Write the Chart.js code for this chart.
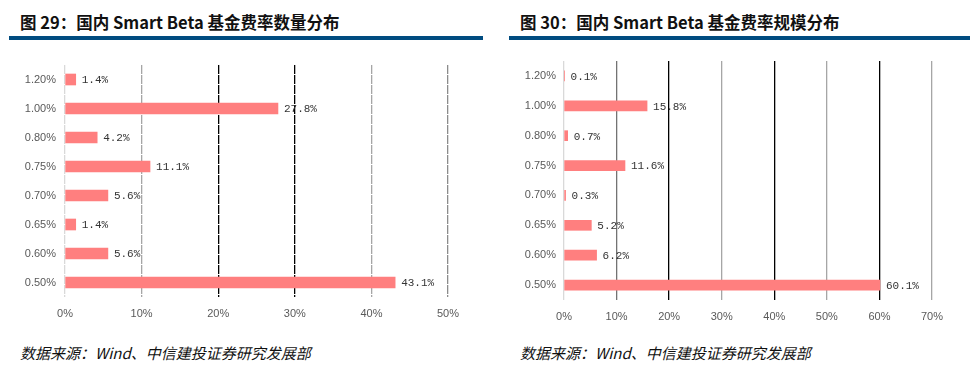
<!DOCTYPE html>
<html>
<head>
<meta charset="utf-8">
<script src="https://cdn.jsdelivr.net/npm/chart.js@4.4.1/dist/chart.umd.min.js"></script>
<style>
  html, body { margin: 0; padding: 0; background: #fff; }
  body { width: 974px; height: 376px; position: relative; overflow: hidden; }
  .title { position: absolute; top: 10px; font: bold 16.5px "Noto Sans CJK SC", sans-serif; color: #111; white-space: nowrap; }
  .rule { position: absolute; top: 36px; height: 4px; background: #004c80; }
  .source { position: absolute; top: 342px; font: italic 15px "Noto Sans CJK SC", sans-serif; color: #111; white-space: nowrap; }
  .box { position: absolute; top: 0; height: 330px; }
</style>
</head>
<body>
<div class="title" style="left:20px">图 29：国内 Smart Beta 基金费率数量分布</div>
<div class="title" style="left:520px">图 30：国内 Smart Beta 基金费率规模分布</div>
<div class="rule" style="left:9px;width:474px"></div>
<div class="rule" style="left:509px;width:461px"></div>
<div class="box" style="left:0;width:490px"><canvas id="countChart"></canvas></div>
<div class="box" style="left:490px;width:484px"><canvas id="scaleChart"></canvas></div>
<div class="source" style="left:20px">数据来源：Wind、中信建投证券研究发展部</div>
<div class="source" style="left:520px">数据来源：Wind、中信建投证券研究发展部</div>

<script>
// fee rate buckets, top to bottom
const feeRates = ['1.20%', '1.00%', '0.80%', '0.75%', '0.70%', '0.65%', '0.60%', '0.50%'];
// share of fund count (%)
const countShare = [1.4, 27.8, 4.2, 11.1, 5.6, 1.4, 5.6, 43.1];
// share of fund size (%)
const scaleShare = [0.1, 15.8, 0.7, 11.6, 0.3, 5.2, 6.2, 60.1];

const countGrid = ['#d9d9d9', '#a6a6a6', '#000000', '#000000', '#a6a6a6', '#8c8c8c'];
const scaleGrid = ['#d9d9d9', '#737373', '#000000', '#a6a6a6', '#000000', '#a6a6a6', '#000000', '#a6a6a6'];

// draws "xx.x%" just right of each bar end
const barLabels = {
  id: 'barLabels',
  afterDatasetsDraw(chart) {
    const ctx = chart.ctx;
    const meta = chart.getDatasetMeta(0);
    const vals = chart.data.datasets[0].data;
    ctx.save();
    ctx.font = '11px "Liberation Mono", monospace';
    ctx.fillStyle = '#333';
    ctx.textAlign = 'left';
    ctx.textBaseline = 'middle';
    meta.data.forEach((bar, i) => {
      ctx.fillText(vals[i].toFixed(1) + '%', bar.x + 6, bar.y + 1);
    });
    ctx.restore();
  }
};

function makeChart(id, values, maxX, gridCols, opts) {
  const ctx = document.getElementById(id).getContext('2d');
  return new Chart(ctx, {
    type: 'bar',
    data: {
      labels: feeRates,
      datasets: [{
        data: values,
        backgroundColor: '#ff7f7f',
        borderWidth: 0,
        barThickness: opts.barThickness
      }]
    },
    options: {
      indexAxis: 'y',
      responsive: true,
      maintainAspectRatio: false,
      animation: false,
      layout: { padding: { left: 0, right: opts.padRight, top: opts.padTop, bottom: 0 } },
      plugins: { legend: { display: false }, tooltip: { enabled: false } },
      scales: {
        x: {
          min: 0,
          max: maxX,
          ticks: {
            stepSize: 10,
            padding: opts.xPad,
            color: '#595959',
            font: { family: '"Liberation Sans", Arial, sans-serif', size: 11 },
            callback: v => v + '%'
          },
          grid: {
            color: c => gridCols[c.index] || '#a6a6a6',
            lineWidth: 1.3,
            drawTicks: false
          },
          border: { display: false, dash: opts.dash },
          afterFit: s => { s.height = opts.xHeight; }
        },
        y: {
          ticks: {
            padding: opts.yPad,
            color: '#595959',
            font: { family: '"Liberation Sans", Arial, sans-serif', size: 11 }
          },
          grid: { display: false, drawTicks: false, tickLength: 0 },
          border: { display: false },
          afterFit: s => { s.width = opts.yWidth; }
        }
      }
    },
    plugins: [barLabels]
  });
}

makeChart('countChart', countShare, 50, countGrid, {
  barThickness: 11, padRight: 42, padTop: 65, xHeight: 33, xPad: 10,
  yWidth: 65, yPad: 9, dash: [9, 1]
});

makeChart('scaleChart', scaleShare, 70, scaleGrid, {
  barThickness: 10, padRight: 42, padTop: 61, xHeight: 30, xPad: 10,
  yWidth: 74, yPad: 8, dash: []
});
</script>
</body>
</html>
